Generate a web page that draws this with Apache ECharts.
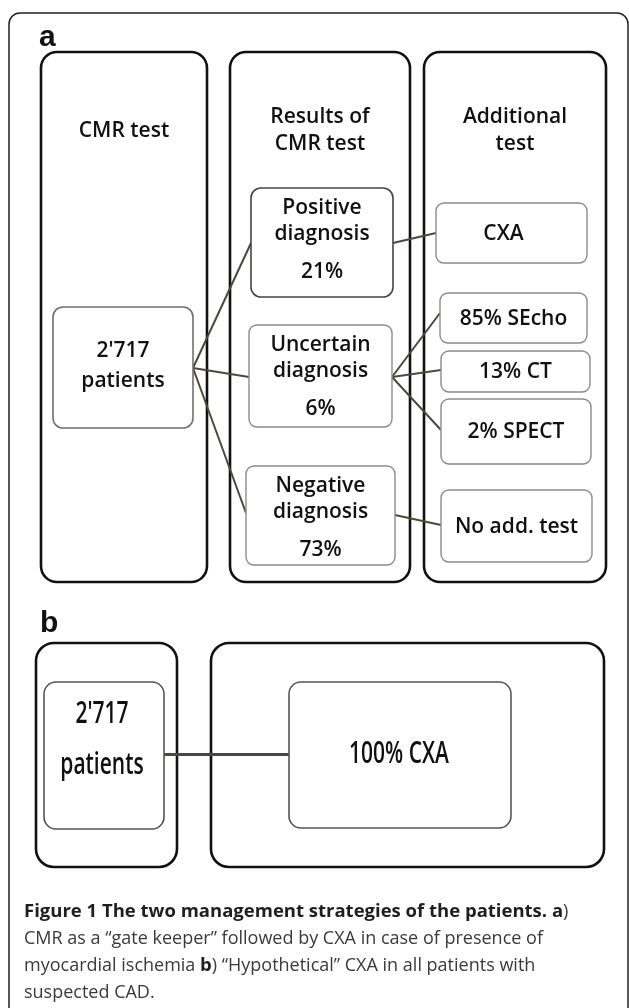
<!DOCTYPE html>
<html>
<head>
<meta charset="utf-8">
<script src="https://cdn.jsdelivr.net/npm/echarts@6/dist/echarts.min.js"></script>
<style>
  html, body { margin: 0; padding: 0; background: #fff; }
  #chart { width: 629px; height: 1008px; }
</style>
</head>
<body>
<div id="chart"></div>
<script>
// figure content
const cohortSize = "2'717";
const columnTitles = ["CMR test", "Results of\nCMR test", "Additional\ntest"];
const resultNames = ["Positive", "Uncertain", "Negative"];
const resultShares = [21, 6, 73];
const followUpTests = ["CXA", "SEcho", "CT", "SPECT", "No add. test"];
const followUpShares = [null, 85, 13, 2, null];
const hypotheticalShare = 100;
const hypotheticalTest = "CXA";

// layout boxes [x0, y0, x1, y1] in figure units (629 x 1008)
const outerFrame = [[9, 13, 628, 1040]];
const columnBoxes = [[41, 52, 207, 582], [230, 52, 410, 582], [424, 52, 606, 582]];
const cohortBox = [53, 307, 193, 428];
const resultBoxes = [[251, 188, 393, 297], [249, 325, 392, 427], [246, 466, 395, 565]];
const testBoxes = [[436, 203, 587, 263], [440, 293, 587, 343], [441, 351, 590, 392], [441, 399, 591, 464], [441, 490, 592, 562]];
const panelBColumns = [[36, 643, 177, 867], [211, 643, 604, 867]];
const panelBBoxes = [[44, 682, 164, 829], [289, 682, 511, 828]];

// connectors: [source box, y on its right edge, target box, y on its left edge]
const links = [
  [cohortBox, 368, resultBoxes[0], 243],
  [cohortBox, 368, resultBoxes[1], 377],
  [cohortBox, 368, resultBoxes[2], 513],
  [resultBoxes[0], 243, testBoxes[0], 233],
  [resultBoxes[1], 377, testBoxes[1], 313],
  [resultBoxes[1], 377, testBoxes[2], 370],
  [resultBoxes[1], 377, testBoxes[3], 430],
  [resultBoxes[2], 515, testBoxes[4], 525]
];
const panelBLinks = [[panelBBoxes[0], 754, panelBBoxes[1], 754]];

const FONT = '"Open Sans", "Noto Sans", sans-serif';

function cx(b) { return (b[0] + b[2]) / 2; }
function cy(b) { return (b[1] + b[3]) / 2; }

// text labels
const labels = [];
columnTitles.forEach(function (t, i) {
  labels.push({ x: cx(columnBoxes[i]), y: 131, text: t, lh: 27 });
});
labels.push({ x: cx(cohortBox), y: cy(cohortBox) - 1, text: cohortSize + "\npatients", lh: 30 });
resultNames.forEach(function (n, i) {
  const b = resultBoxes[i];
  labels.push({ x: cx(b), y: b[1] + 33, text: n + "\ndiagnosis", lh: 26 });
  labels.push({ x: cx(b), y: b[1] + 84, text: resultShares[i] + "%" });
});
followUpTests.forEach(function (n, i) {
  const b = testBoxes[i];
  const t = followUpShares[i] == null ? n : followUpShares[i] + "% " + n;
  labels.push({ x: i === 0 ? cx(b) - 8 : cx(b), y: cy(b) + 1, text: t });
});
labels.push({ x: cx(panelBBoxes[0]) - 2, y: 740, text: cohortSize + "\npatients", lh: 36, sy: 1.42 });
labels.push({ x: cx(panelBBoxes[1]) - 1, y: 755, text: hypotheticalShare + "% " + hypotheticalTest, sy: 1.42 });

function boxSeries(boxes, z, style) {
  return {
    type: "custom",
    coordinateSystem: "cartesian2d",
    z: z,
    silent: true,
    encode: { x: [0, 2], y: [1, 3] },
    data: boxes,
    renderItem: function (params, api) {
      const p0 = api.coord([api.value(0), api.value(1)]);
      const p1 = api.coord([api.value(2), api.value(3)]);
      const s = Array.isArray(style) ? style[params.dataIndex] : style;
      return {
        type: "rect",
        shape: { x: p0[0], y: p0[1], width: p1[0] - p0[0], height: p1[1] - p0[1], r: s.r },
        style: { fill: s.fill || "transparent", stroke: s.stroke, lineWidth: s.lineWidth }
      };
    }
  };
}

function linkSeries(list, width) {
  return {
    type: "lines",
    coordinateSystem: "cartesian2d",
    z: 3,
    silent: true,
    lineStyle: { color: "#4b4a36", width: width, opacity: 1 },
    data: list.map(function (l) {
      return { coords: [[l[0][2], l[1]], [l[2][0], l[3]]] };
    })
  };
}

const inner = { r: 8, stroke: "#8c8c8c", lineWidth: 1.4, fill: "#fff" };

const chart = echarts.init(document.getElementById("chart"));
chart.setOption({
  animation: false,
  backgroundColor: "#fff",
  grid: { left: 0, right: 0, top: 0, bottom: 0 },
  xAxis: { type: "value", min: 0, max: 629, show: false },
  yAxis: { type: "value", min: 0, max: 1008, inverse: true, show: false },
  graphic: [
    {
      type: "text", x: 39, y: 38, z: 10,
      style: { text: "a", fontSize: 30, fontWeight: "bold", fontFamily: '"Liberation Sans", Arial, sans-serif', fill: "#111", verticalAlign: "middle" }
    },
    {
      type: "text", x: 40, y: 624, z: 10,
      style: { text: "b", fontSize: 30, fontWeight: "bold", fontFamily: '"Liberation Sans", Arial, sans-serif', fill: "#111", verticalAlign: "middle" }
    },
    {
      type: "text", x: 24, y: 898, z: 10,
      style: {
        text: "{b|Figure 1 The two management strategies of the patients. a})\n" +
          "CMR as a \u201cgate keeper\u201d followed by CXA in case of presence of\n" +
          "myocardial ischemia {b|b}) \u201cHypothetical\u201d CXA in all patients with\n" +
          "suspected CAD.",
        fontSize: 18, fontFamily: FONT, fill: "#3a3a3a", lineHeight: 27, verticalAlign: "top",
        rich: { b: { fontSize: 18.5, fontFamily: FONT, fontWeight: "bold", fill: "#1f1f1f", lineHeight: 27 } }
      }
    }
  ],
  series: [
    boxSeries(outerFrame, 1, { r: 11, stroke: "#222", lineWidth: 1.5 }),
    boxSeries(columnBoxes, 2, { r: 16, stroke: "#111", lineWidth: 2.6 }),
    boxSeries(panelBColumns, 2, { r: 18, stroke: "#111", lineWidth: 2.6 }),
    linkSeries(links, 2),
    linkSeries(panelBLinks, 3),
    boxSeries([cohortBox], 4, { r: 10, stroke: "#707070", lineWidth: 1.6, fill: "#fff" }),
    boxSeries(resultBoxes, 4, [
      { r: 10, stroke: "#444", lineWidth: 1.6, fill: "#fff" }, inner, inner
    ]),
    boxSeries(testBoxes, 4, inner),
    boxSeries(panelBBoxes, 4, { r: 12, stroke: "#555", lineWidth: 1.6, fill: "#fff" }),
    {
      type: "custom",
      coordinateSystem: "cartesian2d",
      z: 5,
      silent: true,
      data: labels.map(function (d) { return [d.x, d.y]; }),
      renderItem: function (params, api) {
        const d = labels[params.dataIndex];
        const p = api.coord([api.value(0), api.value(1)]);
        return {
          type: "text",
          x: p[0],
          y: p[1],
          scaleY: d.sy || 1,
          style: {
            text: d.text,
            fontSize: 21,
            fontWeight: 600,
            fontFamily: FONT,
            fill: "#111",
            align: "center",
            verticalAlign: "middle",
            lineHeight: d.lh || 26
          }
        };
      }
    }
  ]
});
</script>
</body>
</html>
